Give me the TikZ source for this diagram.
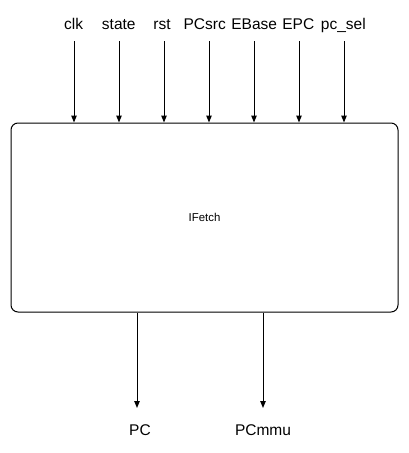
\documentclass[tikz,border=0pt]{standalone}
\usepackage{fontspec}
\setmainfont{Liberation Sans}
\usetikzlibrary{arrows.meta}
\begin{document}
\begin{tikzpicture}[x=1pt,y=-1pt,
  sig/.style={font=\fontsize{15.5}{18}\selectfont, anchor=base, inner sep=0pt},
  wire/.style={line width=1pt, -{Triangle[length=7pt,width=5.5pt]}},
  blk/.style={draw, line width=1pt, rounded corners=7pt, minimum width=387pt, minimum height=189pt, inner sep=0pt}]
\useasboundingbox (0,0) rectangle (409,453);
\node[blk] (box) at (204.5,217.5) {};
\node[font=\fontsize{11.4}{13}\selectfont] (lbl) at (box.center) {IFetch};
% input labels
\node[sig] (clk) at (73.7,29.5) {clk};
\node[sig] (state) at (118.8,29.5) {state};
\node[sig] (rst) at (162,29.5) {rst};
\node[sig] (pcsrc) at (204.7,29.5) {PCsrc};
\node[sig] (ebase) at (254.2,29.5) {EBase};
\node[sig] (epc) at (298.3,29.5) {EPC};
\node[sig] (pcsel) at (343.3,29.5) {pc\_sel};
\foreach \n/\x in {clk/74,state/119,rst/164,pcsrc/209,ebase/254,epc/299,pcsel/344}{
  \coordinate (s\n) at (\x,41);
  \draw[wire] (s\n) -- (s\n |- box.north);
}
% outputs
\node[sig] (pc) at (140,435) {PC};
\node[sig] (pcmmu) at (263,435) {PCmmu};
\coordinate (epc1) at (137,408);
\coordinate (epc2) at (263,408);
\draw[wire] (epc1 |- box.south) -- (epc1);
\draw[wire] (epc2 |- box.south) -- (epc2);
\end{tikzpicture}
\end{document}
